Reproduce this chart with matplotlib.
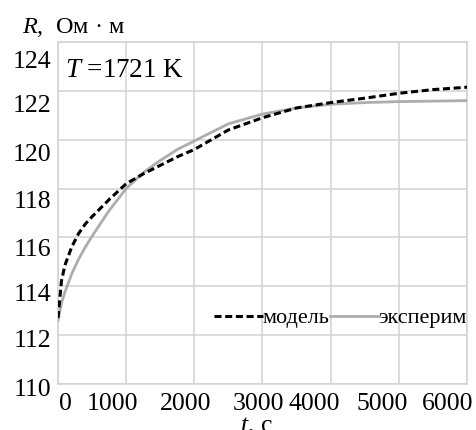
import matplotlib
matplotlib.use("Agg")
import matplotlib.pyplot as plt
import matplotlib.transforms as mtransforms

# ---- data ----
t = [0, 50, 100, 200, 300, 400, 500, 750, 1000, 1250, 1500, 1750, 2000,
     2500, 3000, 3500, 4000, 4500, 5000, 5500, 6000]
model = [112.7, 114.2, 114.85, 115.6, 116.15, 116.55, 116.85, 117.55, 118.2,
         118.6, 118.95, 119.3, 119.6, 120.4, 120.9, 121.3, 121.52, 121.7,
         121.9, 122.05, 122.15]
experiment = [112.6, 113.3, 113.75, 114.5, 115.1, 115.6, 116.05, 117.1, 118.0,
              118.65, 119.15, 119.6, 119.95, 120.65, 121.05, 121.3, 121.45,
              121.52, 121.56, 121.58, 121.6]
xticks = [0, 1000, 2000, 3000, 4000, 5000, 6000]
yticks = [110, 112, 114, 116, 118, 120, 122, 124]
series_labels = ["модель", "эксперим"]
annotation = "1721 K"

plt.rcParams['font.family'] = ['Liberation Serif', 'DejaVu Serif']
plt.rcParams['mathtext.fontset'] = 'custom'
plt.rcParams['mathtext.it'] = 'Liberation Serif:italic'
plt.rcParams['mathtext.rm'] = 'Liberation Serif'

fig = plt.figure(figsize=(4.77, 4.30), dpi=100)
W, H = 477, 430
ax = fig.add_axes([58 / W, 1 - 384 / H, (467 - 58) / W, (384 - 42) / H])

grid_c = '#d2d2d2'
l_exp, = ax.plot(t, experiment, color='#adadad', lw=2.0, label=series_labels[1], zorder=3)
l_mod, = ax.plot(t, model, color='black', lw=2.2, dashes=(2.3, 1.2), label=series_labels[0], zorder=4)

ax.set_xlim(0, 6000)
ax.set_ylim(110, 124)
ax.set_xticks(xticks)
ax.set_yticks(yticks)
ax.grid(True, color=grid_c, lw=1.1)
for s in ax.spines.values():
    s.set_color(grid_c)
    s.set_linewidth(1.1)
ax.tick_params(length=0, labelsize=18.5)
ax.tick_params(axis='x', pad=6.5)
ax.tick_params(axis='y', pad=5)

# irregular label offsets like the reference (pixels)
xoff = [7, -14, -9, -4, -16, -17, -19]
for lab, dx in zip(ax.get_xticklabels(), xoff):
    lab.set_transform(lab.get_transform() + mtransforms.ScaledTranslation(dx / 100, 0, fig.dpi_scale_trans))
yoff = [4, 3, 6, 10, 11, 13, 13, 17]
for lab, dy in zip(ax.get_yticklabels(), yoff):
    lab.set_transform(lab.get_transform() + mtransforms.ScaledTranslation(0, -dy / 100, fig.dpi_scale_trans))

# axis titles
fig.text(22 / W, 1 - 33 / H, r"$R$,  Ом · м", fontsize=17.5, ha='left', va='baseline')
fig.text(256 / W, 1 - 432 / H, r"$t$, с", fontsize=18.5, ha='center', va='baseline')
fig.text(65 / W, 1 - 77 / H, r"$T$ =" + annotation, fontsize=19.5, ha='left', va='baseline')

leg = ax.legend(handles=[l_mod, l_exp], loc='center right',
                bbox_to_anchor=(1.0, (384 - 318) / 342), ncol=2,
                frameon=False, fontsize=16, handlelength=2.2, handletextpad=0.0,
                columnspacing=0.0, borderpad=0, borderaxespad=0)

fig.savefig("out.png", dpi=100)
